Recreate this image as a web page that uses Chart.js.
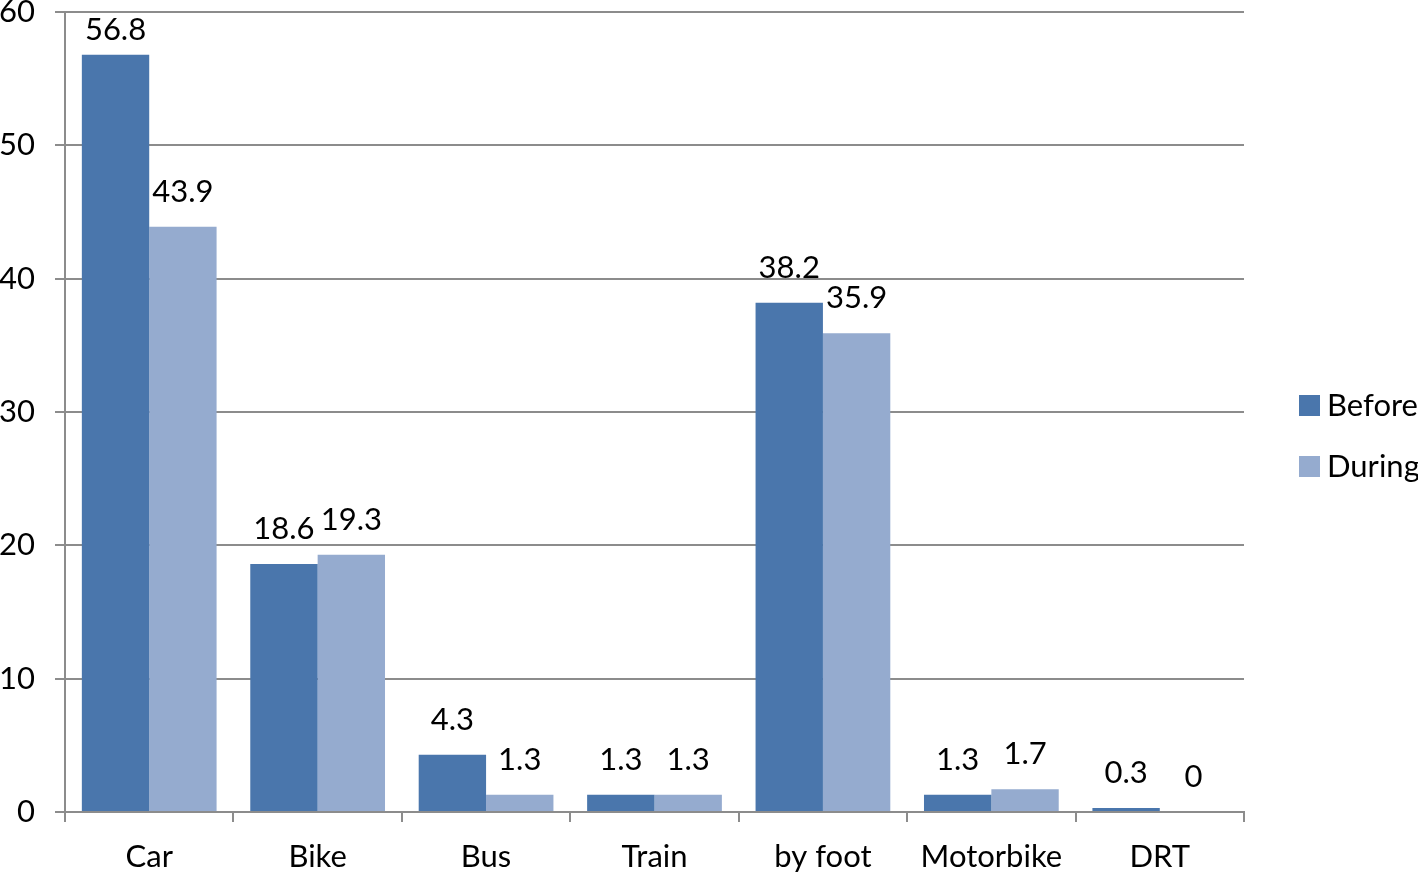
<!DOCTYPE html>
<html>
<head>
<meta charset="utf-8">
<script src="https://cdn.jsdelivr.net/npm/chart.js@4.4.0/dist/chart.umd.min.js"></script>
<style>
  html, body { margin: 0; padding: 0; background: #fff; }
  #wrap { width: 1418px; height: 873px; }
</style>
</head>
<body>
<div id="wrap"><canvas id="chart"></canvas></div>
<script>
var categories = ["Car", "Bike", "Bus", "Train", "by foot", "Motorbike", "DRT"];
var beforeValues = [56.8, 18.6, 4.3, 1.3, 38.2, 1.3, 0.3];
var duringValues = [43.9, 19.3, 1.3, 1.3, 35.9, 1.7, 0];
var yTicks = [0, 10, 20, 30, 40, 50, 60];

var FONT = "Lato, 'DejaVu Sans', sans-serif";
var gridGrey = "#8c8c8c";

// value labels above each bar
var barLabels = {
    id: 'barLabels',
    afterDatasetsDraw: function (chart) {
        var ctx = chart.ctx;
        ctx.save();
        ctx.font = "31px " + FONT;
        ctx.fillStyle = "#000";
        ctx.textAlign = "center";
        ctx.textBaseline = "middle";
        chart.data.datasets.forEach(function (ds, i) {
            chart.getDatasetMeta(i).data.forEach(function (bar, j) {
                var y = Math.max(bar.y - 35, 30);
                ctx.fillText(String(ds.data[j]), bar.x, y);
            });
        });
        ctx.restore();
    }
};

// legend on the right, drawn by hand
var sideLegend = {
    id: 'sideLegend',
    afterDraw: function (chart) {
        var ctx = chart.ctx;
        ctx.save();
        ctx.font = "31px " + FONT;
        ctx.textBaseline = "middle";
        ctx.textAlign = "left";
        chart.data.datasets.forEach(function (ds, i) {
            var y = 405 + i * 61;
            ctx.fillStyle = ds.backgroundColor;
            ctx.fillRect(1299, y - 10, 21, 21);
            ctx.fillStyle = "#000";
            ctx.fillText(ds.label, 1327, y + 1);
        });
        ctx.restore();
    }
};

new Chart(document.getElementById('chart'), {
    type: 'bar',
    data: {
        labels: categories,
        datasets: [{
            label: 'Before',
            data: beforeValues,
            backgroundColor: '#4a76ac',
            categoryPercentage: 0.8,
            barPercentage: 1.0
        }, {
            label: 'During',
            data: duringValues,
            backgroundColor: '#95abcf',
            categoryPercentage: 0.8,
            barPercentage: 1.0
        }]
    },
    options: {
        responsive: true,
        maintainAspectRatio: false,
        animation: false,
        layout: { padding: { top: 12, right: 174, left: 0, bottom: 0 } },
        plugins: {
            legend: { display: false },
            tooltip: { enabled: false }
        },
        scales: {
            x: {
                afterFit: function (scale) {
                    scale.height = 61;
                    scale.paddingLeft = 0;
                    scale.paddingRight = 0;
                },
                grid: {
                    display: true,
                    offset: true,
                    drawOnChartArea: false,
                    drawTicks: true,
                    tickLength: 10,
                    color: gridGrey,
                    lineWidth: 2
                },
                border: { display: true, color: gridGrey, width: 2 },
                ticks: {
                    color: '#000',
                    font: { family: FONT, size: 31 },
                    padding: 16,
                    maxRotation: 0
                }
            },
            y: {
                min: 0,
                max: 60,
                afterFit: function (scale) {
                    scale.width = 65;
                    scale.paddingTop = 0;
                    scale.paddingBottom = 0;
                },
                afterBuildTicks: function (axis) {
                    axis.ticks = yTicks.map(function (v) { return { value: v }; });
                },
                grid: {
                    color: gridGrey,
                    lineWidth: 2,
                    tickLength: 10
                },
                border: { display: true, color: gridGrey, width: 2 },
                ticks: {
                    color: '#000',
                    font: { family: FONT, size: 31 },
                    padding: 20
                }
            }
        }
    },
    plugins: [barLabels, sideLegend]
});
</script>
</body>
</html>
